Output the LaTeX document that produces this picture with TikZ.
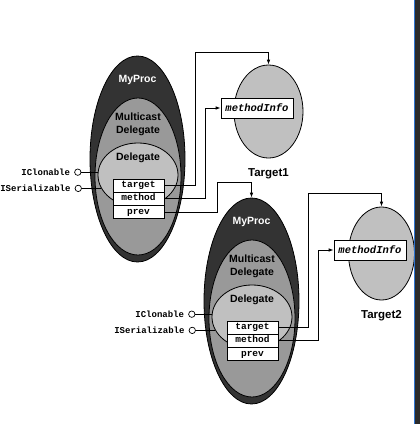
\documentclass[tikz,border=0pt]{standalone}
\usepackage{fontspec}
\setsansfont{Liberation Sans}
\setmonofont{Liberation Mono}
\usetikzlibrary{%
  arrows.meta,%
  positioning,%
  shapes.geometric,%
}

\definecolor{procgray}{HTML}{333333}
\definecolor{mcastgray}{HTML}{999999}
\definecolor{delegray}{HTML}{C0C0C0}
\definecolor{edgeblue}{HTML}{2F74D0}
\definecolor{edgedark}{HTML}{2B2B2B}

\tikzset{
  blob/.style={ellipse, draw=black, line width=0.8pt, inner sep=0pt},
  title/.style={font=\sffamily\bfseries\fontsize{10.5}{13}\selectfont,
    inner sep=0pt, align=center},
  tgtname/.style={font=\sffamily\bfseries\fontsize{11.5}{13}\selectfont,
    inner sep=0pt},
  field/.style={draw, fill=white, line width=0.8pt, minimum width=51pt,
    minimum height=13.2pt, inner sep=0pt, text height=6pt, text depth=1.8pt,
    font=\ttfamily\bfseries\fontsize{9.5}{11}\selectfont},
  infobox/.style={draw, fill=white, line width=0.8pt, minimum width=72pt,
    minimum height=20pt, inner sep=0pt,
    font=\ttfamily\bfseries\itshape\fontsize{10.5}{12}\selectfont},
  port/.style={circle, draw, fill=white, line width=0.7pt, inner sep=0pt,
    minimum size=6.4pt},
  portlbl/.style={inner sep=0pt,
    font=\ttfamily\bfseries\fontsize{9}{10}\selectfont},
  link/.style={line width=0.8pt},
  ref/.style={link, -{Latex[length=5pt,width=3.6pt]}},
}

\begin{document}
\begin{tikzpicture}[x=1pt, y=-1pt]

      \useasboundingbox (0, 0) rectangle (420, 424);

      % first delegate
      \node[blob, fill=procgray, minimum width=95pt, minimum height=206pt]
        (proc1) at (137.5, 159) {};
      \node[blob, fill=mcastgray, minimum width=86pt, minimum height=157pt]
        (mcast1) at (138, 176.5) {};
      \node[blob, fill=delegray, minimum width=80pt, minimum height=64pt]
        (deleg1) at (138, 175) {};
      \node[title, text=white, below=19pt of proc1.north] (proc1txt) {MyProc};
      \node[title, below=15pt of mcast1.north] (mcast1txt) {Multicast\\Delegate};
      \node[title, below=10pt of deleg1.north] (deleg1txt) {Delegate};

      \node[field] (tgt1) at (138.5, 185.6) {target};
      \node[field, below=-0.8pt of tgt1] (mth1) {method};
      \node[field, below=-0.8pt of mth1] (prev1) {prev};

      \node[port, left=16.4pt of deleg1.176] (clone1) {};
      \node[port, left=19.4pt of deleg1.200] (serial1) {};
      \node[portlbl, left=4pt of clone1] (clone1txt) {IClonable};
      \node[portlbl, left=4pt of serial1] (serial1txt) {ISerializable};
      \draw[link] (clone1) -- (deleg1.176);
      \draw[link] (serial1) -- (deleg1.200);

      % first target
      \node[blob, fill=delegray, minimum width=69pt, minimum height=93pt]
        (target1) at (268.5, 111.5) {};
      \node[infobox] (info1) at (257, 108) {methodInfo};
      \node[tgtname, below=9.5pt of target1] (target1txt) {Target1};

      % second delegate
      \node[blob, fill=procgray, minimum width=95pt, minimum height=206pt]
        (proc2) at (251.5, 301) {};
      \node[blob, fill=mcastgray, minimum width=86pt, minimum height=157pt]
        (mcast2) at (252, 318.5) {};
      \node[blob, fill=delegray, minimum width=80pt, minimum height=64pt]
        (deleg2) at (252, 317) {};
      \node[title, text=white, below=19pt of proc2.north] (proc2txt) {MyProc};
      \node[title, below=15pt of mcast2.north] (mcast2txt) {Multicast\\Delegate};
      \node[title, below=10pt of deleg2.north] (deleg2txt) {Delegate};

      \node[field] (tgt2) at (252.5, 327.6) {target};
      \node[field, below=-0.8pt of tgt2] (mth2) {method};
      \node[field, below=-0.8pt of mth2] (prev2) {prev};

      \node[port, left=16.4pt of deleg2.176] (clone2) {};
      \node[port, left=19.4pt of deleg2.200] (serial2) {};
      \node[portlbl, left=4pt of clone2] (clone2txt) {IClonable};
      \node[portlbl, left=4pt of serial2] (serial2txt) {ISerializable};
      \draw[link] (clone2) -- (deleg2.176);
      \draw[link] (serial2) -- (deleg2.200);

      % second target
      \node[blob, fill=delegray, minimum width=66pt, minimum height=93pt]
        (target2) at (381.5, 253.5) {};
      \node[infobox] (info2) at (370, 250) {methodInfo};
      \node[tgtname, below=9.5pt of target2] (target2txt) {Target2};

      % references
      \draw[ref] (tgt1.east) -- ++(31, 0) |- ([yshift=12pt]target1.north)
        -- (target1.north);
      \draw[ref] (mth1.east) -- ++(41, 0) |- (info1.west);
      \draw[ref] (prev1.east) -- ++(53, 0) |- ([yshift=15pt]proc2.north)
        -- (proc2.north);
      \draw[ref] (tgt2.east) -- ++(30, 0) |- ([yshift=13pt]target2.north)
        -- (target2.north);
      \draw[ref] (mth2.east) -- ++(40, 0) |- (info2.west);

      % window edge
      \fill[edgedark] (415, 0) rectangle (420, 424);
      \draw[edgeblue, line width=1pt] (414.5, 0) -- (414.5, 424);

    \end{tikzpicture}
\end{document}
